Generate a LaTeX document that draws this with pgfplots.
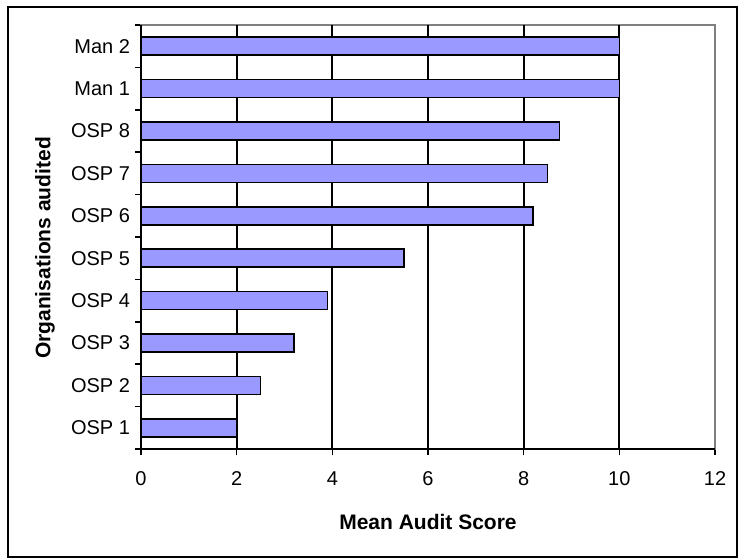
\documentclass[border=0pt]{standalone}
\usepackage{fontspec}
\setmainfont{Liberation Sans}
\usepackage{pgfplots}
\pgfplotsset{compat=1.18}
\definecolor{barblue}{HTML}{9999FF}
\begin{document}
\begin{tikzpicture}
\useasboundingbox (0pt,0pt) rectangle (738pt,-558pt);
\fill[white] (0pt,0pt) rectangle (738pt,-558pt);
\begin{axis}[
  at={(141pt,-449pt)}, anchor=south west,
  scale only axis, width=574pt, height=424pt,
  xbar, bar width=18pt,
  xmin=0, xmax=12, ymin=-0.5, ymax=9.5,
  xtick={0,2,...,12},
  ytick={0,...,9},
  yticklabels={OSP 1,OSP 2,OSP 3,OSP 4,OSP 5,OSP 6,OSP 7,OSP 8,Man 1,Man 2},
  minor ytick={-0.5,0.5,...,9.5},
  tick align=outside,
  xtick pos=left, ytick pos=left,
  major tick length=6pt, minor tick length=6pt,
  every major y tick/.style={draw=none},
  every minor y tick/.style={draw=black, line width=1.6pt},
  every major x tick/.style={draw=black, line width=1.6pt},
  extra x ticks={2,4,6,8,10},
  extra x tick labels={},
  extra x tick style={grid=major, major tick length=0pt},
  grid style={black, line width=1.8pt},
  axis line style={draw=gray, line width=1.8pt},
  /pgf/number format/assume math mode=true,
  ticklabel style={font=\fontsize{20}{22}\selectfont},
  xticklabel style={yshift=-13pt},
  yticklabel style={xshift=-1.5pt},
  xlabel={Mean Audit Score},
  ylabel={Organisations audited},
  label style={font=\fontsize{21}{23}\selectfont\bfseries},
  xlabel style={at={(axis description cs:0.5,0)}, anchor=center, yshift=-73pt},
  ylabel style={at={(axis description cs:0,0.5)}, anchor=center, yshift=96pt, xshift=-11pt},
  clip=false,
]
\addplot[fill=barblue, draw=black, line width=1.6pt] coordinates {
  (2,0) (2.5,1) (3.2,2) (3.9,3) (5.5,4) (8.2,5) (8.5,6) (8.75,7) (10,8) (10,9)
};
\draw[black, line width=1.8pt] (rel axis cs:0,1) -- (rel axis cs:0,0) -- (rel axis cs:1,0);
\end{axis}
\draw[black, line width=1.8pt] (8pt,-7pt) rectangle (737pt,-557pt);
\end{tikzpicture}
\end{document}
